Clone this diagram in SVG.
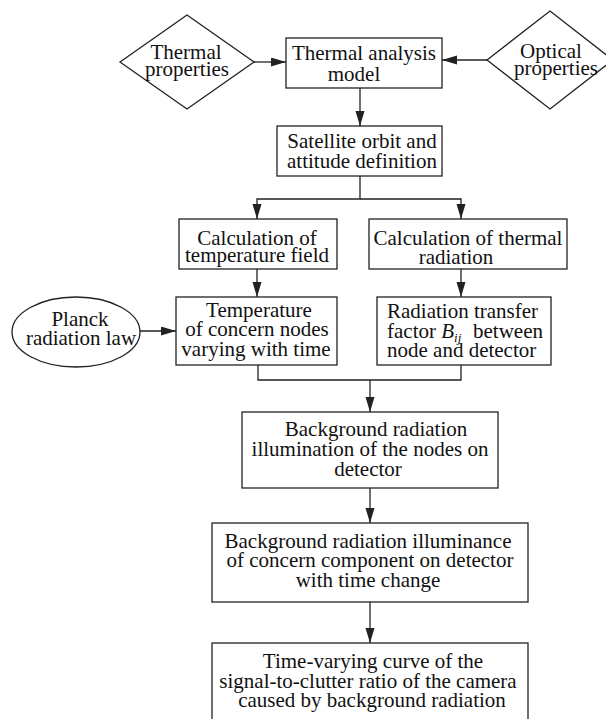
<svg xmlns="http://www.w3.org/2000/svg" width="606" height="719" viewBox="0 0 606 719">
<style>
.b{fill:#fff;stroke:#222;stroke-width:1.3}
.c{fill:none;stroke:#222;stroke-width:1.3}
text{font-family:"Liberation Serif","Times New Roman",serif;font-size:21px;fill:#111}
.m{text-anchor:middle}
</style>
<defs>
<marker id="ah" markerUnits="userSpaceOnUse" markerWidth="16" markerHeight="10" refX="15" refY="4.5" orient="auto">
<path d="M0,0 L15,4.5 L0,9 Z" fill="#222"/>
</marker>
</defs>
<rect width="606" height="719" fill="#fff"/>
<g id="connectors">
<line class="c" x1="254" y1="62" x2="286" y2="62" marker-end="url(#ah)"/>
<line class="c" x1="487" y1="60" x2="442" y2="60" marker-end="url(#ah)"/>
<line class="c" x1="360" y1="88" x2="360" y2="126" marker-end="url(#ah)"/>
<polyline class="c" points="360,176 360,199 257,199 257,219" marker-end="url(#ah)"/>
<polyline class="c" points="360,199 461,199 461,219" marker-end="url(#ah)"/>
<line class="c" x1="257" y1="269" x2="257" y2="297" marker-end="url(#ah)"/>
<line class="c" x1="461" y1="269" x2="461" y2="297" marker-end="url(#ah)"/>
<line class="c" x1="140" y1="331" x2="176" y2="331" marker-end="url(#ah)"/>
<polyline class="c" points="258,365 258,380 461,380 461,365"/>
<line class="c" x1="370" y1="380" x2="370" y2="412" marker-end="url(#ah)"/>
<line class="c" x1="370" y1="488" x2="370" y2="523" marker-end="url(#ah)"/>
<line class="c" x1="370" y1="602" x2="370" y2="643" marker-end="url(#ah)"/>
</g>
<g id="thermal-properties">
<polygon class="b" points="120,62 187,15 254,62 187,109"/>
<text class="m" x="186" y="59">Thermal</text>
<text class="m" x="187" y="76">properties</text>
</g>
<g id="thermal-analysis-model">
<rect class="b" x="286" y="38" width="156" height="50"/>
<text class="m" x="364" y="60">Thermal analysis</text>
<text class="m" x="354" y="81">model</text>
</g>
<g id="optical-properties">
<polygon class="b" points="487,60 550,11 613,60 550,109"/>
<text class="m" x="551" y="58">Optical</text>
<text class="m" x="556" y="75">properties</text>
</g>
<g id="satellite-orbit">
<rect class="b" x="277" y="126" width="165" height="50"/>
<text class="m" x="362" y="148">Satellite orbit and</text>
<text class="m" x="362" y="168">attitude definition</text>
</g>
<g id="calc-temperature-field">
<rect class="b" x="179" y="219" width="158" height="50"/>
<text class="m" x="257" y="245">Calculation of</text>
<text class="m" x="257" y="262">temperature field</text>
</g>
<g id="calc-thermal-radiation">
<rect class="b" x="369" y="219" width="198" height="50"/>
<text class="m" x="468" y="245">Calculation of thermal</text>
<text class="m" x="456" y="264">radiation</text>
</g>
<g id="planck">
<ellipse class="b" cx="76" cy="332" rx="64" ry="35"/>
<text class="m" x="80" y="326">Planck</text>
<text class="m" x="81" y="345">radiation law</text>
</g>
<g id="temperature-nodes">
<rect class="b" x="176" y="297" width="161" height="68"/>
<text class="m" x="259" y="317">Temperature</text>
<text class="m" x="257" y="336">of concern nodes</text>
<text class="m" x="256" y="356">varying with time</text>
</g>
<g id="radiation-transfer">
<rect class="b" x="377" y="297" width="174" height="68"/>
<text x="387" y="318">Radiation transfer</text>
<text x="387" y="338">factor <tspan font-style="italic">B</tspan><tspan font-style="italic" font-size="13" dy="4">ij</tspan><tspan x="473" dy="-4">between</tspan></text>
<text x="387" y="357">node and detector</text>
</g>
<g id="background-nodes">
<rect class="b" x="242" y="412" width="256" height="76"/>
<text class="m" x="376" y="436">Background radiation</text>
<text class="m" x="370" y="456">illumination of the nodes on</text>
<text class="m" x="368" y="476">detector</text>
</g>
<g id="background-component">
<rect class="b" x="212" y="523" width="316" height="79"/>
<text class="m" x="368" y="548">Background radiation illuminance</text>
<text class="m" x="370" y="567">of concern component on detector</text>
<text class="m" x="368" y="587">with time change</text>
</g>
<g id="signal-to-clutter">
<rect class="b" x="212" y="643" width="316" height="90"/>
<text class="m" x="373" y="668">Time-varying curve of the</text>
<text class="m" x="368" y="688">signal-to-clutter ratio of the camera</text>
<text class="m" x="372" y="707">caused by background radiation</text>
</g>
</svg>
